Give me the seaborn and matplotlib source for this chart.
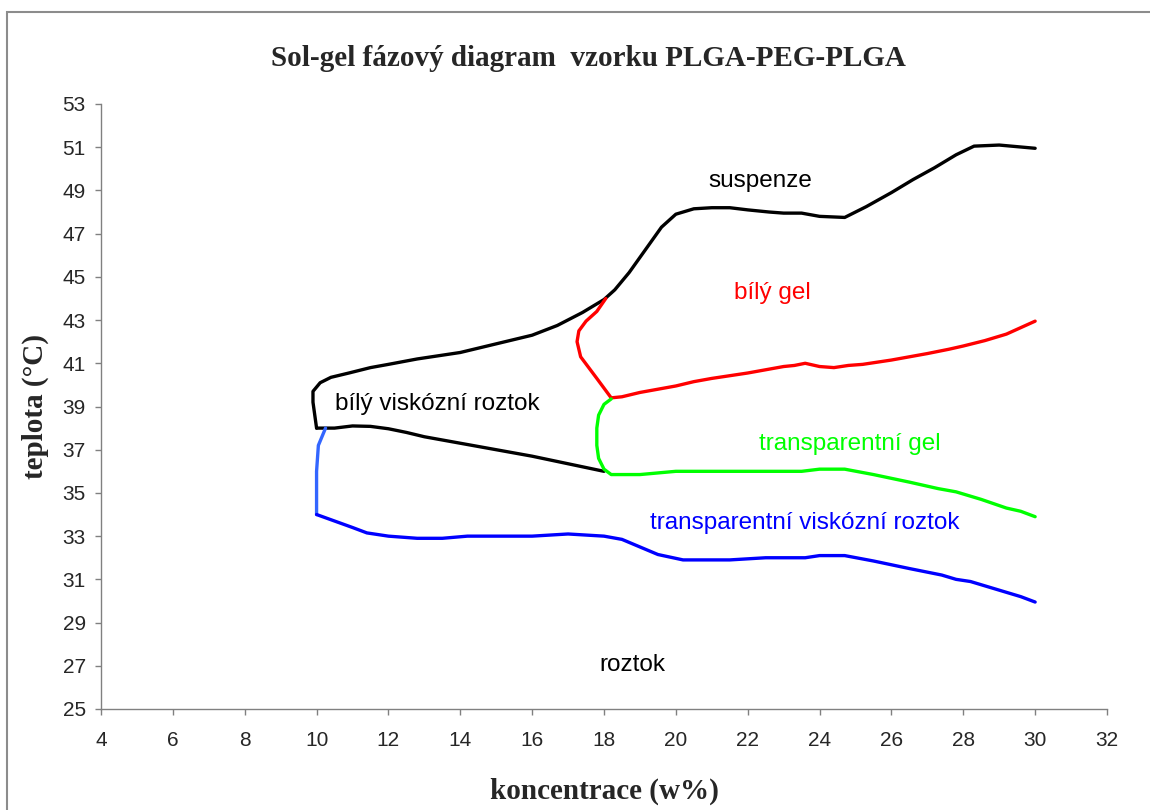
import matplotlib
matplotlib.use("Agg")
import matplotlib.pyplot as plt
from matplotlib.patches import Rectangle
from matplotlib import font_manager
import seaborn as sns
import pandas as pd

# Phase boundaries: concentration (w%) and temperature (°C)
suspenze_x = [10.0, 9.9, 9.9, 10.1, 10.4, 10.9, 11.5, 12.0, 12.8, 14.0, 15.0, 16.0, 16.7,
              17.4, 18.0, 18.3, 18.7, 19.0, 19.3, 19.6, 20.0, 20.5, 21.0, 21.5, 22.0,
              22.6, 23.0, 23.5, 24.0, 24.7, 25.3, 26.0, 26.6, 27.2, 27.8, 28.3, 29.0, 30.0]
suspenze_y = [38.0, 39.2, 39.7, 40.1, 40.35, 40.55, 40.8, 40.95, 41.2, 41.5, 41.9, 42.3, 42.75,
              43.35, 43.95, 44.4, 45.2, 45.9, 46.6, 47.3, 47.9, 48.15, 48.2, 48.2, 48.1,
              48.0, 47.95, 47.95, 47.8, 47.75, 48.25, 48.9, 49.5, 50.05, 50.65, 51.05, 51.1, 50.95]

viskozni_x = [10.0, 10.5, 11.0, 11.5, 12.0, 12.5, 13.0, 14.0, 15.0, 16.0, 17.0, 18.0]
viskozni_y = [38.0, 38.0, 38.1, 38.08, 37.97, 37.8, 37.6, 37.3, 37.0, 36.7, 36.35, 36.0]

bily_gel_x = [18.05, 17.8, 17.5, 17.3, 17.25, 17.35, 17.8, 18.2, 18.5, 19.0, 19.5, 20.0,
              20.5, 21.0, 22.0, 22.5, 23.0, 23.3, 23.6, 24.0, 24.4, 24.8, 25.2, 26.0,
              27.0, 27.6, 28.0, 28.6, 29.2, 30.0]
bily_gel_y = [44.0, 43.4, 42.95, 42.5, 42.0, 41.3, 40.3, 39.4, 39.45, 39.65, 39.8, 39.95,
              40.15, 40.3, 40.55, 40.7, 40.85, 40.9, 41.0, 40.85, 40.8, 40.9, 40.95, 41.15,
              41.45, 41.65, 41.8, 42.05, 42.35, 42.95]

transp_gel_x = [18.2, 18.0, 17.85, 17.8, 17.8, 17.85, 18.0, 18.2, 19.0, 20.0, 21.0, 22.0,
                23.0, 23.5, 24.0, 24.7, 25.5, 26.5, 27.3, 27.8, 28.5, 29.2, 29.6, 30.0]
transp_gel_y = [39.35, 39.1, 38.6, 38.0, 37.2, 36.6, 36.1, 35.85, 35.85, 36.0, 36.0, 36.0,
                36.0, 36.0, 36.1, 36.1, 35.85, 35.5, 35.2, 35.05, 34.7, 34.3, 34.15, 33.9]

spojka_x = [10.25, 10.05, 10.0, 10.0]
spojka_y = [38.0, 37.2, 36.0, 34.0]

transp_visk_x = [10.0, 10.5, 11.0, 11.4, 12.0, 12.8, 13.5, 14.2, 15.0, 16.0, 16.5, 17.0,
                 17.5, 18.0, 18.5, 19.0, 19.5, 20.2, 21.5, 22.5, 23.6, 24.0, 24.7, 25.5,
                 26.5, 27.4, 27.8, 28.2, 29.0, 29.6, 30.0]
transp_visk_y = [34.0, 33.7, 33.4, 33.15, 33.0, 32.9, 32.9, 33.0, 33.0, 33.0, 33.05, 33.1,
                 33.05, 33.0, 32.85, 32.5, 32.15, 31.9, 31.9, 32.0, 32.0, 32.1, 32.1, 31.85,
                 31.5, 31.2, 31.0, 30.9, 30.5, 30.2, 29.95]

# Region names and where they are written
region_names = ["suspenze", "bílý gel", "bílý viskózní roztok", "transparentní gel",
                "transparentní viskózní roztok", "roztok"]
region_x = [22.35, 22.7, 13.35, 24.85, 23.6, 18.8]
region_y = [49.45, 44.25, 39.1, 37.25, 33.6, 27.05]
region_colors = ["black", "#FF0000", "black", "#00FF00", "#0000FF", "black"]

x_ticks = list(range(4, 33, 2))
y_ticks = list(range(25, 54, 2))

sns.set_style("ticks")
plt.rcParams["font.family"] = ["Liberation Sans", "DejaVu Sans"]

installed = {f.name for f in font_manager.fontManager.ttflist}
tick_family = "Liberation Sans Narrow" if "Liberation Sans Narrow" in installed else "Liberation Sans"

fig = plt.figure(figsize=(11.5, 8.1), dpi=100)
ax = fig.add_axes([101 / 1150, 1 - 709 / 810, 1006 / 1150, 605 / 810])

curves = [
    (suspenze_x, suspenze_y, "black"),
    (viskozni_x, viskozni_y, "black"),
    (bily_gel_x, bily_gel_y, "#FF0000"),
    (transp_gel_x, transp_gel_y, "#00FF00"),
    (spojka_x, spojka_y, "#3366FF"),
    (transp_visk_x, transp_visk_y, "#0000FF"),
]
for xs, ys, col in curves:
    df = pd.DataFrame({"x": xs, "y": ys})
    sns.lineplot(data=df, x="x", y="y", sort=False, estimator=None, color=col,
                 linewidth=2.4, ax=ax, solid_joinstyle="round", solid_capstyle="round")

for name, tx, ty, col in zip(region_names, region_x, region_y, region_colors):
    ax.text(tx, ty, name, color=col, fontsize=17.5, ha="center", va="center",
            family=["Liberation Sans", "DejaVu Sans"])

ax.set_xlim(4, 32)
ax.set_ylim(25, 53)
ax.set_xticks(x_ticks)
ax.set_yticks(y_ticks)
ax.tick_params(axis="both", direction="out", length=4, width=1, color="#808080",
               labelsize=15)
ax.tick_params(axis="x", pad=12)
ax.tick_params(axis="y", pad=7)
for lbl in ax.get_xticklabels() + ax.get_yticklabels():
    lbl.set_family(tick_family)
for side in ("top", "right"):
    ax.spines[side].set_visible(False)
for side in ("left", "bottom"):
    ax.spines[side].set_color("#808080")
    ax.spines[side].set_linewidth(1)

serif_bold = dict(family=["Liberation Serif", "DejaVu Serif"], fontweight="bold", fontsize=21)
ax.set_xlabel("koncentrace (w%)", labelpad=20, **serif_bold)
ax.set_ylabel("teplota (°C)", labelpad=10, **serif_bold)
fig.text(588 / 1150, 1 - 58 / 810, "Sol-gel fázový diagram  vzorku PLGA-PEG-PLGA",
         ha="center", va="center", **serif_bold)

# chart frame
fig.patches.append(Rectangle((7 / 1150, -0.1), 1.2, 1.1 - 12 / 810, transform=fig.transFigure,
                             fill=False, edgecolor="#8c8c8c", linewidth=1.5))

fig.savefig("out.png", dpi=100)
